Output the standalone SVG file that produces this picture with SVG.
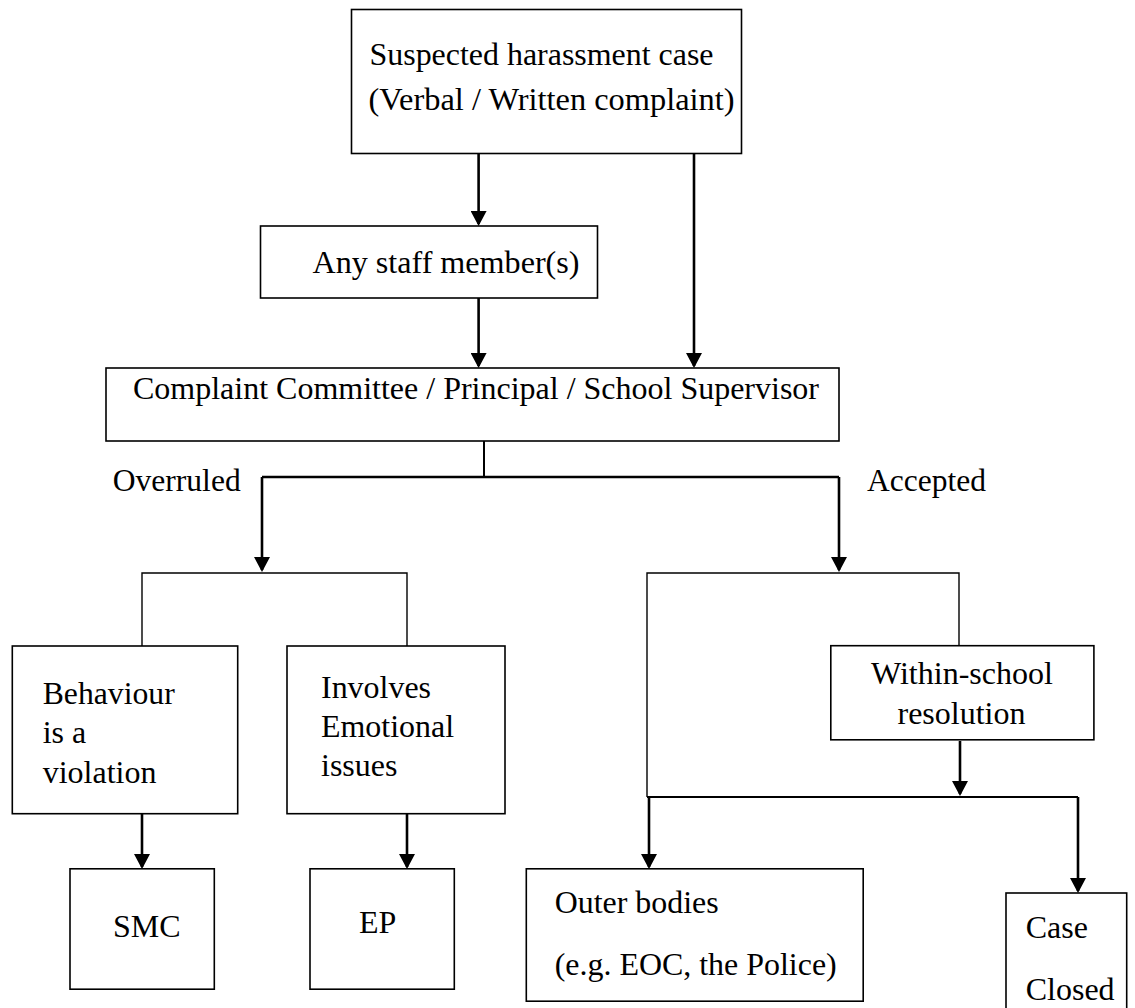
<svg xmlns="http://www.w3.org/2000/svg" width="1135" height="1008" viewBox="0 0 1135 1008">
<style>
.box{fill:#fff;stroke:#000;stroke-width:1.6}
.t{font-size:32px;fill:#000}
.arr{stroke:#000;stroke-width:2.6;fill:none}
.mid{stroke:#000;stroke-width:2;fill:none}
.thin{stroke:#000;stroke-width:1.4;fill:none}
</style>
<defs>
<marker id="ah" markerUnits="userSpaceOnUse" markerWidth="15" markerHeight="16" viewBox="0 0 15 16" refX="13" refY="8" orient="auto">
<path d="M0,0 L15,8 L0,16 z" fill="#000"/>
</marker>
</defs>
<rect width="1135" height="1008" fill="#fff"/>

<g id="connectors">
<line class="arr" x1="478.6" y1="154" x2="478.6" y2="224" marker-end="url(#ah)"/>
<line class="arr" x1="694" y1="154" x2="694" y2="366" marker-end="url(#ah)"/>
<line class="arr" x1="478.6" y1="298" x2="478.6" y2="366" marker-end="url(#ah)"/>
<path class="mid" d="M484,441 V477"/>
<path class="arr" d="M262,477 H839"/>
<line class="arr" x1="262" y1="477" x2="262" y2="570" marker-end="url(#ah)"/>
<line class="arr" x1="839" y1="477" x2="839" y2="570" marker-end="url(#ah)"/>
<path class="thin" d="M142,646 V573 H407 V646"/>
<line class="arr" x1="142" y1="814" x2="142" y2="867" marker-end="url(#ah)"/>
<line class="arr" x1="407" y1="814" x2="407" y2="867" marker-end="url(#ah)"/>
<path class="thin" d="M647,797 V573 H959 V646"/>
<line class="arr" x1="960" y1="741" x2="960" y2="794" marker-end="url(#ah)"/>
<path class="mid" d="M647,797 H1078"/>
<line class="arr" x1="649" y1="797" x2="649" y2="867" marker-end="url(#ah)"/>
<line class="arr" x1="1078" y1="797" x2="1078" y2="891" marker-end="url(#ah)"/>
</g>

<g font-family="Liberation Serif, DejaVu Serif, serif">
<g id="suspected">
<rect class="box" x="351.5" y="9.5" width="390" height="144"/>
<text class="t" x="369.5" y="65" textLength="344" lengthAdjust="spacingAndGlyphs">Suspected harassment case</text>
<text class="t" x="368.5" y="110" textLength="366" lengthAdjust="spacingAndGlyphs">(Verbal / Written complaint)</text>
</g>

<g id="staff">
<rect class="box" x="260.5" y="226" width="337" height="72"/>
<text class="t" x="312.5" y="273" textLength="267" lengthAdjust="spacingAndGlyphs">Any staff member(s)</text>
</g>

<g id="committee">
<rect class="box" x="106" y="368" width="733" height="73"/>
<text class="t" x="133" y="399" textLength="686" lengthAdjust="spacingAndGlyphs">Complaint Committee / Principal / School Supervisor</text>
</g>

<g id="labels">
<text class="t" x="112.7" y="491" textLength="128" lengthAdjust="spacingAndGlyphs">Overruled</text>
<text class="t" x="867" y="491" textLength="119" lengthAdjust="spacingAndGlyphs">Accepted</text>
</g>

<g id="behaviour">
<rect class="box" x="12.3" y="646" width="225.4" height="167.7"/>
<text class="t" x="42.7" y="704" textLength="132" lengthAdjust="spacingAndGlyphs">Behaviour</text>
<text class="t" x="42.7" y="742.7" textLength="43.5" lengthAdjust="spacingAndGlyphs">is a</text>
<text class="t" x="42.7" y="782.6" textLength="113.8" lengthAdjust="spacingAndGlyphs">violation</text>
</g>

<g id="involves">
<rect class="box" x="287" y="646" width="218" height="167.7"/>
<text class="t" x="321" y="697.5" textLength="110" lengthAdjust="spacingAndGlyphs">Involves</text>
<text class="t" x="321" y="736.8" textLength="133" lengthAdjust="spacingAndGlyphs">Emotional</text>
<text class="t" x="321" y="776.2" textLength="76.4" lengthAdjust="spacingAndGlyphs">issues</text>
</g>

<g id="smc">
<rect class="box" x="70" y="868.8" width="144.3" height="120.4"/>
<text class="t" x="113" y="937.4" textLength="67.6" lengthAdjust="spacingAndGlyphs">SMC</text>
</g>

<g id="ep">
<rect class="box" x="310" y="868.8" width="144.3" height="120.4"/>
<text class="t" x="359" y="932.6" textLength="37.3" lengthAdjust="spacingAndGlyphs">EP</text>
</g>

<g id="within">
<rect class="box" x="830.8" y="645.7" width="263.1" height="94.1"/>
<text class="t" x="871" y="684.3" textLength="182" lengthAdjust="spacingAndGlyphs">Within-school</text>
<text class="t" x="897.5" y="723.7" textLength="128" lengthAdjust="spacingAndGlyphs">resolution</text>
</g>

<g id="outer">
<rect class="box" x="526.3" y="868.8" width="336.9" height="132.4"/>
<text class="t" x="554.7" y="913" textLength="164" lengthAdjust="spacingAndGlyphs">Outer bodies</text>
<text class="t" x="554.7" y="975" textLength="282" lengthAdjust="spacingAndGlyphs">(e.g. EOC, the Police)</text>
</g>

<g id="closed">
<rect class="box" x="1006" y="893" width="120.7" height="125"/>
<text class="t" x="1025.7" y="938.3" textLength="62.2" lengthAdjust="spacingAndGlyphs">Case</text>
<text class="t" x="1025.7" y="1000" textLength="88.9" lengthAdjust="spacingAndGlyphs">Closed</text>
</g>
</g>
</svg>
